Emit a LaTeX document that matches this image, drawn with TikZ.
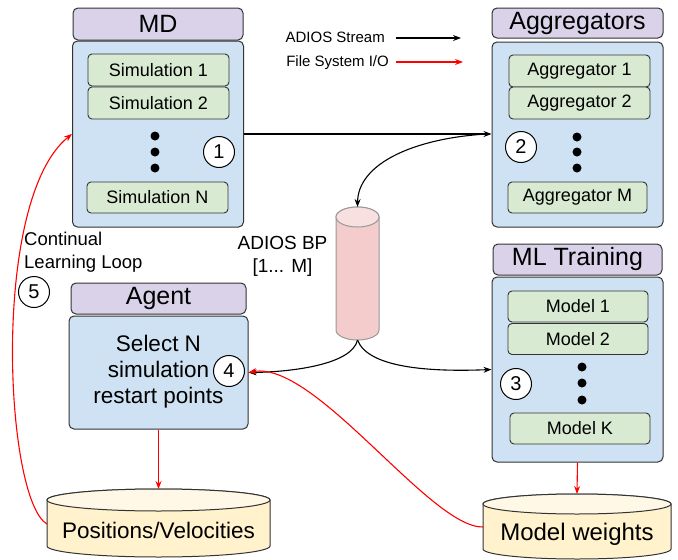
\documentclass[tikz,border=0pt]{standalone}
\usepackage{fontspec}
\setmainfont{Liberation Sans}
\usetikzlibrary{arrows.meta}
\definecolor{hdr}{HTML}{D9D2E9}
\definecolor{bodyc}{HTML}{CFE2F3}
\definecolor{itemc}{HTML}{D9EAD3}
\definecolor{cylY}{HTML}{FFF2CC}
\definecolor{cylYt}{HTML}{FFF8E6}
\definecolor{cylP}{HTML}{F4CCCC}
\definecolor{cylPt}{HTML}{F8E0E0}
\definecolor{edge}{HTML}{333333}
\definecolor{cylEdge}{HTML}{999999}
\definecolor{fsred}{HTML}{FF0000}
\begin{document}
\begin{tikzpicture}[x=1pt,y=1pt,
 hdrbox/.style={draw=edge, line width=1pt, rounded corners=5pt, fill=hdr, inner sep=0pt, font=\fontsize{25}{28}\selectfont},
 bodybox/.style={draw=edge, line width=1pt, rounded corners=5pt, fill=bodyc, inner sep=0pt},
 itembox/.style={draw=edge, line width=0.9pt, rounded corners=4pt, fill=itemc, inner sep=0pt, minimum height=32pt, font=\fontsize{18}{21}\selectfont},
 numc/.style={circle, draw=black, line width=1pt, fill=white, minimum size=31pt, inner sep=0pt, font=\fontsize{20}{22}\selectfont},
 dotc/.style={circle, fill=black, minimum size=9pt, inner sep=0pt},
 stream/.style={draw=black, line width=1.1pt, -{Stealth[length=8pt,width=6pt]}},
 fsio/.style={draw=fsred, line width=1.1pt, -{Stealth[length=8pt,width=6pt]}},
 ghost/.style={inner sep=0pt, outer sep=0pt},
]
\useasboundingbox[fill=white] (0,0) rectangle (678,-560);

% ---------- MD ----------
\node[hdrbox, minimum width=170pt, minimum height=32pt] (mdh) at (158,-24) {MD};
\node[bodybox, minimum width=171pt, minimum height=186pt] (mdb) at (158,-134) {};
\node[itembox, minimum width=141pt] (sim1) at (158.5,-70) {Simulation 1};
\node[itembox, minimum width=141pt] (sim2) at (158.5,-103) {Simulation 2};
\node[itembox, minimum width=141pt, minimum height=31pt] (simN) at (157.5,-197.5) {Simulation N};
\node[dotc] (mdd1) at (155,-136) {};
\node[dotc] (mdd2) at (155,-152) {};
\node[dotc] (mdd3) at (155,-168) {};
\node[numc] (c1) at (219,-152) {1};

% ---------- Aggregators ----------
\node[hdrbox, minimum width=171pt, minimum height=30pt] (aggh) at (577.5,-23) {Aggregators};
\node[bodybox, minimum width=171pt, minimum height=185pt] (aggb) at (577.5,-134.5) {};
\node[itembox, minimum width=141pt] (agg1) at (579.5,-71) {Aggregator 1};
\node[itembox, minimum width=141pt] (agg2) at (579.5,-103) {Aggregator 2};
\node[itembox, minimum width=139pt, minimum height=31pt] (aggM) at (577.5,-197.5) {Aggregator M};
\node[dotc] (agd1) at (577,-137) {};
\node[dotc] (agd2) at (577,-152) {};
\node[dotc] (agd3) at (577,-168) {};
\node[numc] (c2) at (521,-147) {2};

% ---------- ML Training ----------
\node[hdrbox, minimum width=169pt, minimum height=31pt] (mlh) at (577.5,-259.5) {ML Training};
\node[bodybox, minimum width=171pt, minimum height=185pt] (mlb) at (577.5,-369.5) {};
\node[itembox, minimum width=140pt, minimum height=31pt] (mod1) at (578,-306.5) {Model 1};
\node[itembox, minimum width=140pt, minimum height=31pt] (mod2) at (578,-339) {Model 2};
\node[itembox, minimum width=140pt, minimum height=31pt] (modK) at (580,-428.5) {Model K};
\node[dotc] (mld1) at (582,-367) {};
\node[dotc] (mld2) at (582,-383) {};
\node[dotc] (mld3) at (582,-400) {};
\node[numc] (c3) at (516,-384) {3};

% ---------- Agent ----------
\node[hdrbox, minimum width=175pt, minimum height=31pt] (agh) at (158.5,-298.5) {Agent};
\node[bodybox, minimum width=179pt, minimum height=113pt] (agb) at (158.5,-372.5) {};
\node[inner sep=0pt, align=center, font=\fontsize{22.5}{26}\selectfont, anchor=base] (agtxt) at (158.5,-403) {Select N\\simulation\\restart points};
\node[numc] (c4) at (229,-371) {4};

% ---------- Cylinders ----------
% ADIOS BP
\node[ghost, minimum width=43pt, minimum height=133pt] (bp) at (357.5,-273.5) {};
\filldraw[draw=cylEdge, line width=1pt, fill=cylP] (336,-217) -- (336,-330) arc[start angle=180, end angle=360, x radius=21.5pt, y radius=10pt] -- (379,-217) arc[start angle=0, end angle=180, x radius=21.5pt, y radius=10pt] -- cycle;
\filldraw[draw=cylEdge, line width=1pt, fill=cylPt] (357.5,-217) ellipse[x radius=21.5pt, y radius=10pt];
\node[inner sep=0pt, align=center, font=\fontsize{19}{23}\selectfont, anchor=base] (bptxt) at (282.5,-272) {ADIOS BP\\{[1... M]}};

% Positions/Velocities
\node[ghost, minimum width=223pt, minimum height=70pt] (pos) at (158.5,-524) {};
\filldraw[draw=edge, line width=1pt, fill=cylY] (47,-500) -- (47,-546) arc[start angle=180, end angle=360, x radius=111.5pt, y radius=11pt] -- (270,-500) arc[start angle=0, end angle=180, x radius=111.5pt, y radius=11pt] -- cycle;
\filldraw[draw=edge, line width=1pt, fill=cylYt] (158.5,-500) ellipse[x radius=111.5pt, y radius=11pt];
\node[inner sep=0pt, font=\fontsize{22.5}{26}\selectfont, anchor=base] (postxt) at (158.5,-538) {Positions/Velocities};

% Model weights
\node[ghost, minimum width=188pt, minimum height=66pt] (mw) at (577,-527) {};
\filldraw[draw=edge, line width=1pt, fill=cylY] (483,-504) -- (483,-549) arc[start angle=180, end angle=360, x radius=94pt, y radius=10pt] -- (671,-504) arc[start angle=0, end angle=180, x radius=94pt, y radius=10pt] -- cycle;
\filldraw[draw=edge, line width=1pt, fill=cylYt] (577,-504) ellipse[x radius=94pt, y radius=10pt];
\node[inner sep=0pt, font=\fontsize{24}{28}\selectfont, anchor=base] (mwtxt) at (577,-540) {Model weights};

% ---------- Labels ----------
\node[inner sep=0pt, align=left, font=\fontsize{18.5}{23}\selectfont, anchor=base west] (loop) at (24,-268) {Continual\\Learning Loop};
\node[numc] (c5) at (34,-292) {5};

% ---------- Legend ----------
\node[inner sep=0pt, font=\fontsize{15}{18}\selectfont, anchor=base east] (leg1) at (385,-42.5) {ADIOS Stream};
\node[inner sep=0pt, font=\fontsize{15}{18}\selectfont, anchor=base east] (leg2) at (389,-66) {File System I/O};
\coordinate (l1a) at (396,-38);
\coordinate (l1b) at (461,-38);
\coordinate (l2a) at (396,-62);
\coordinate (l2b) at (463,-62);
\draw[stream] (l1a) -- (l1b);
\draw[fsio] (l2a) -- (l2b);

% ---------- Connectors ----------
\draw[stream] (mdb.east) -- (mdb.east -| aggb.west);
\coordinate (aggin) at ([xshift=-12pt]aggb.west);
\draw[stream] (aggin) .. controls (410,-140) and (358,-165) .. (bp.north);
\draw[stream] (bp.south) .. controls (352,-365) and (290,-372) .. (agb.east);
\draw[stream] (bp.south) .. controls (368,-368) and (430,-372) .. (mlb.west);
\draw[fsio] (agb.south) -- (pos.north);
\draw[fsio] (mlb.south) -- (mw.north);
\draw[fsio] (mw.west) .. controls (430,-528) and (315,-360) .. (agb.east);
\draw[fsio] (pos.west) .. controls (5,-500) and (-10,-200) .. (mdb.west);
\end{tikzpicture}
\end{document}
